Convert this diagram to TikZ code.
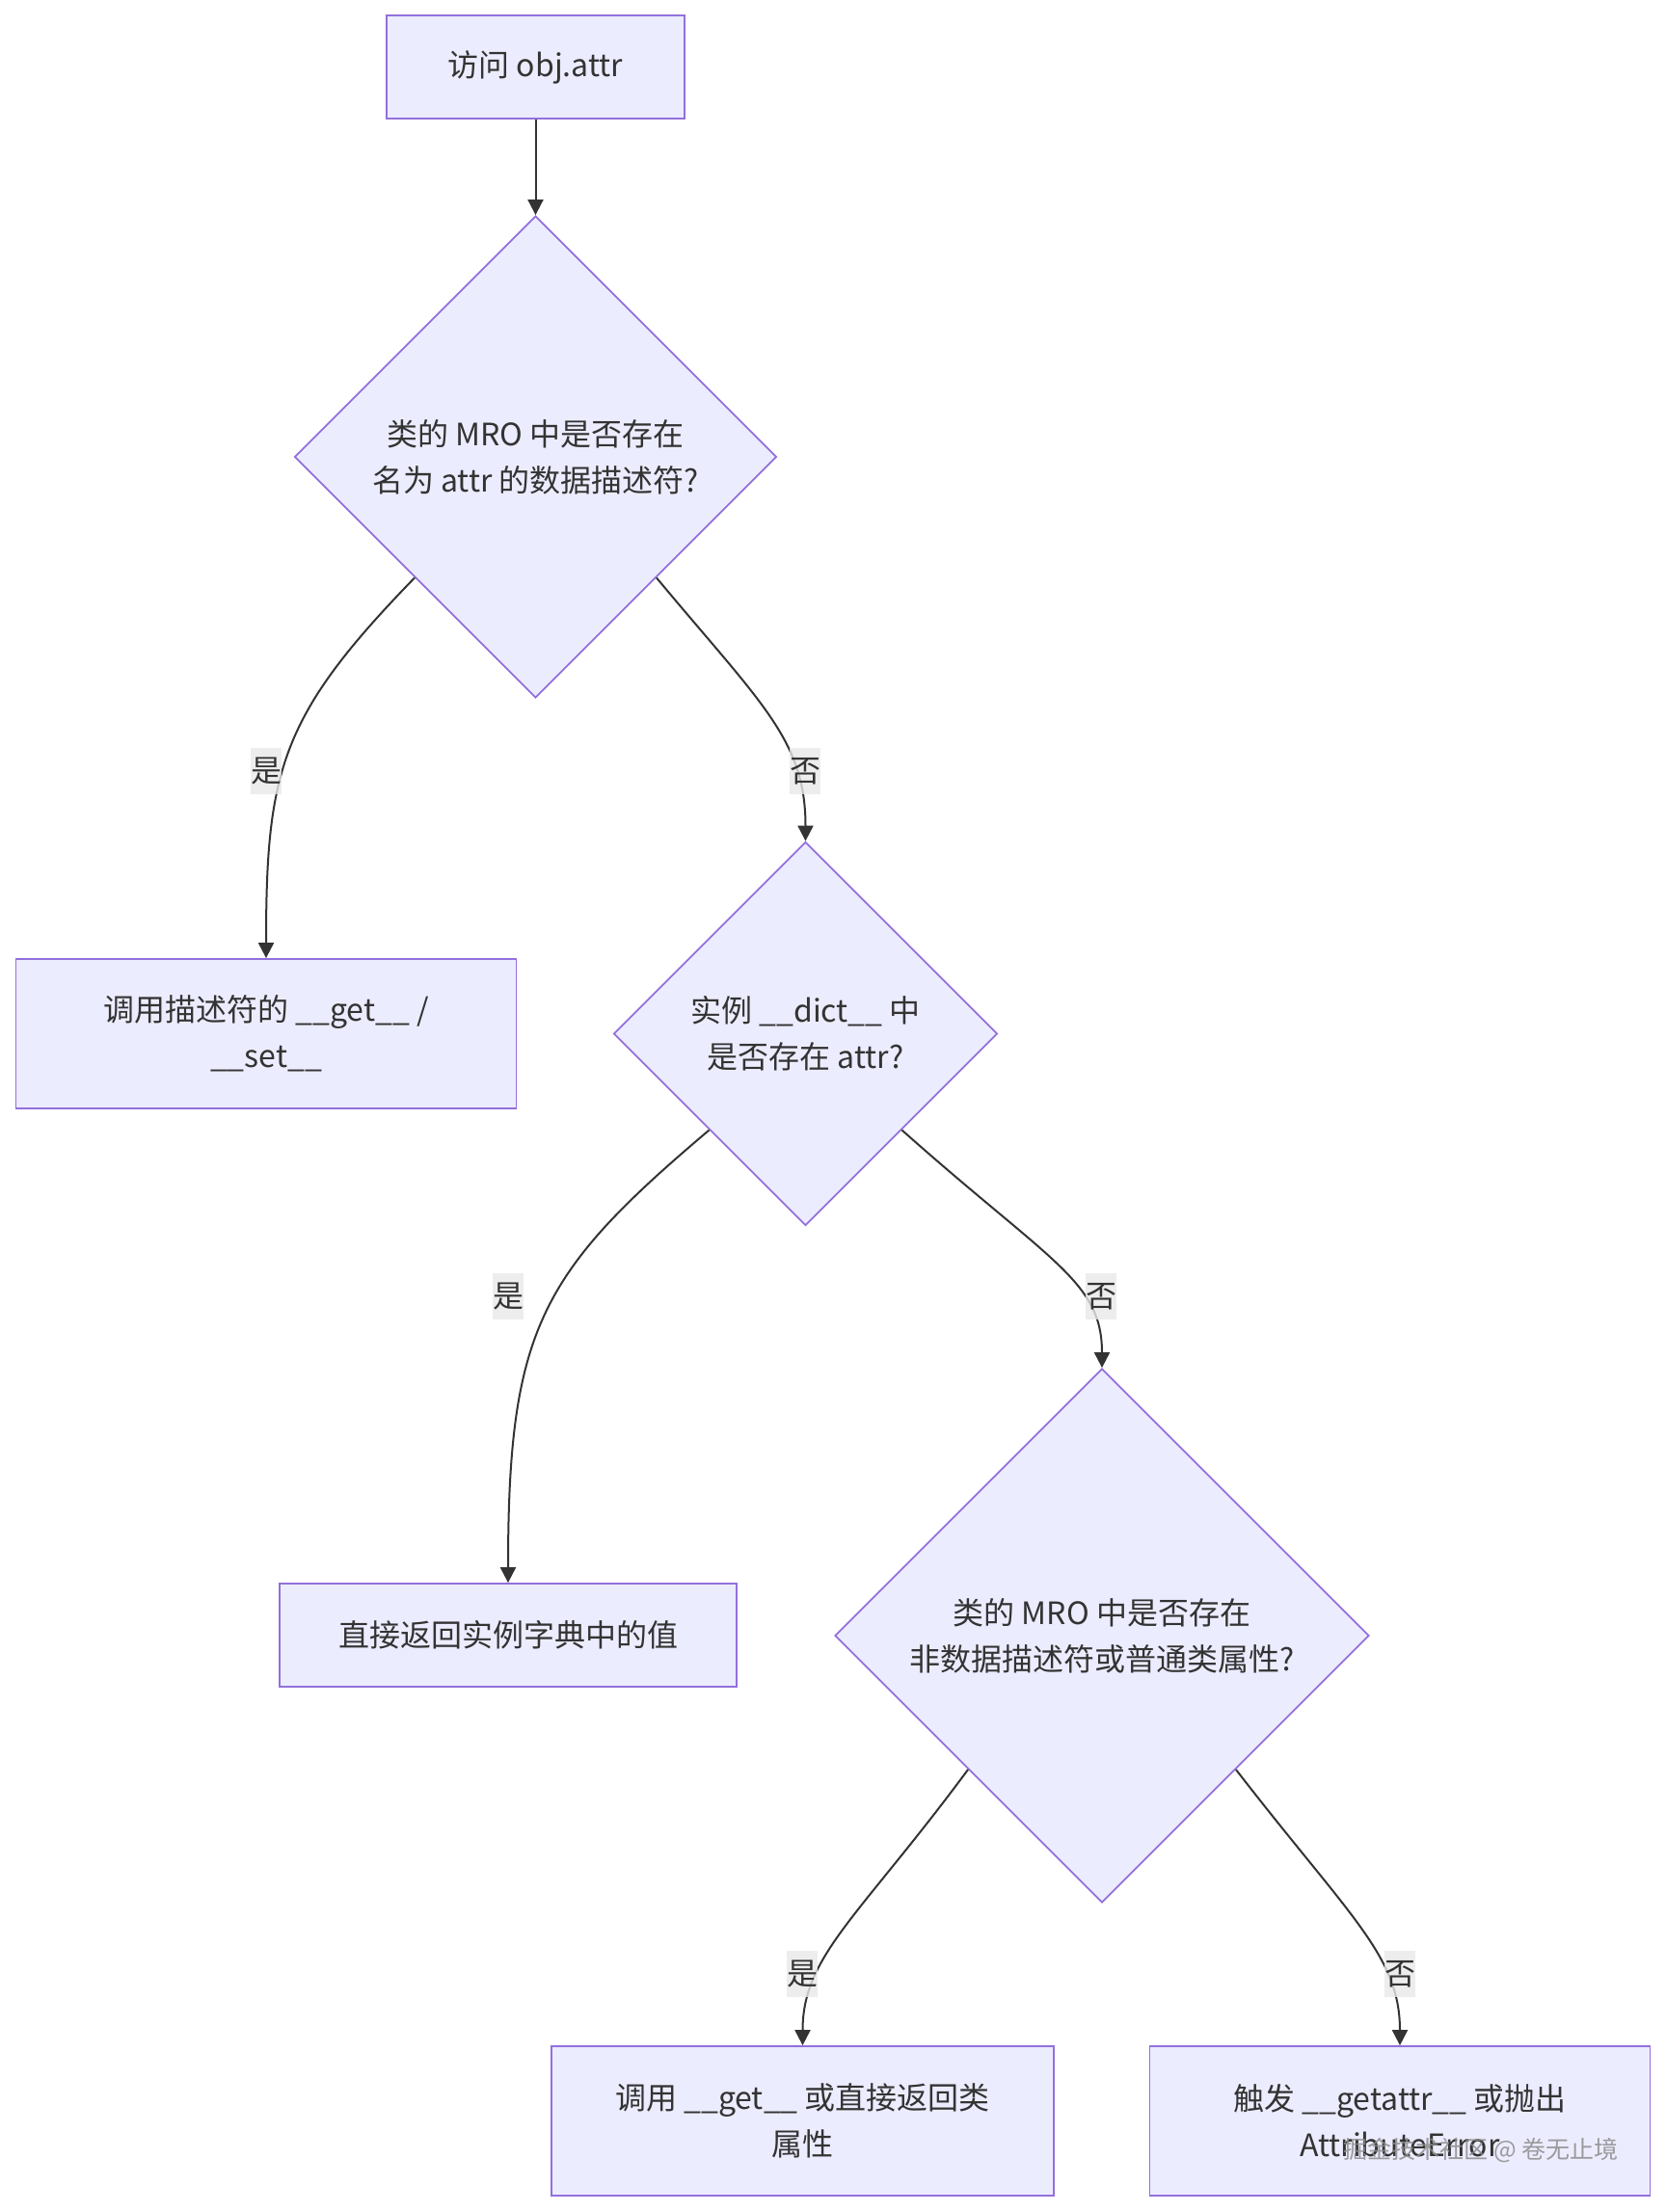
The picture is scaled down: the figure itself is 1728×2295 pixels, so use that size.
\documentclass[tikz,border=0pt]{standalone}
\usepackage{fontspec}
\setmainfont{Noto Sans CJK SC}
\usepackage{tikz}
\usetikzlibrary{shapes.geometric,arrows.meta}
\definecolor{nodefill}{HTML}{ECECFF}
\definecolor{nodeline}{HTML}{9370DB}
\definecolor{inkgray}{HTML}{333333}
\definecolor{labelbg}{HTML}{E8E8E8}
\tikzstyle{decision} = [diamond, draw=nodeline, fill=nodefill, line width=1.8pt,
    text=inkgray, align=center, inner sep=0pt, aspect=1]
\tikzstyle{block} = [rectangle, draw=nodeline, fill=nodefill, line width=1.8pt,
    text=inkgray, align=center, inner sep=0pt]
\tikzstyle{line} = [draw=inkgray, line width=2pt, -{Triangle[length=16pt,width=16pt]}]
\tikzstyle{answer} = [fill=labelbg, fill opacity=0.8, text opacity=1, text=inkgray,
    inner sep=0pt, minimum width=32pt, minimum height=48pt]
\begin{document}
\begin{tikzpicture}[x=1pt, y=-1pt, every node/.style={font=\fontsize{32}{48}\selectfont}]
      \useasboundingbox (0,0) rectangle (1728,2295);
      \node [block, minimum width=309pt, minimum height=107pt] (visit) at (555.5,69.5)
         {访问 obj.attr};
      \node [decision, below of=visit, node distance=404.5pt, minimum width=500pt,
         minimum height=500pt] (datadesc) {类的 MRO 中是否存在\\名为 attr 的数据描述符?};
      \node [decision, minimum width=398pt, minimum height=398pt] (instdict) at (835.5,1072.5)
         {实例 \_\_dict\_\_ 中\\是否存在 attr?};
      \node [block, left of=instdict, node distance=559.5pt, minimum width=519pt,
         minimum height=155pt] (calldesc) {调用描述符的 \_\_get\_\_ /\\\_\_set\_\_};
      \node [block, minimum width=474pt, minimum height=107pt] (retdict) at (527,1696.5)
         {直接返回实例字典中的值};
      \node [decision, minimum width=554pt, minimum height=554pt] (nondata) at (1143,1697)
         {类的 MRO 中是否存在\\非数据描述符或普通类属性?};
      \node [block, minimum width=521pt, minimum height=155pt] (callget) at (832.5,2200.5)
         {调用 \_\_get\_\_ 或直接返回类\\属性};
      \node [block, right of=callget, node distance=619.5pt, minimum width=519pt,
         minimum height=155pt] (getattr) {触发 \_\_getattr\_\_ 或抛出\\AttributeError};

      \path [line] (visit) -- (datadesc);
      \path [line] (datadesc.south west) .. controls +(-139,143) and +(0,-195) .. (calldesc.north);
      \path [line] (datadesc.south east) .. controls +(109,131) and +(0,-105) .. (instdict.north);
      \path [line] (instdict.south west) .. controls +(-175,148) and +(0,-263) .. (retdict.north);
      \path [line] (instdict.south east) .. controls +(155,138) and +(0,-90) .. (nondata.north);
      \path [line] (nondata.south west) .. controls +(-114,154) and +(0,-93) .. (callget.north);
      \path [line] (nondata.south east) .. controls +(119,154) and +(0,-93) .. (getattr.north);

      \node [answer] (yes1) at (276,800) {是};
      \node [answer] (no1) at (835,800) {否};
      \node [answer] (yes2) at (527,1345) {是};
      \node [answer] (no2) at (1142,1345) {否};
      \node [answer] (yes3) at (832,2048) {是};
      \node [answer] (no3) at (1452,2048) {否};

      \node [text=black!45, text opacity=0.85, font=\fontsize{25}{30}\selectfont] (mark)
         at (1536,2231) {掘金技术社区 @ 卷无止境};
   \end{tikzpicture}
\end{document}
